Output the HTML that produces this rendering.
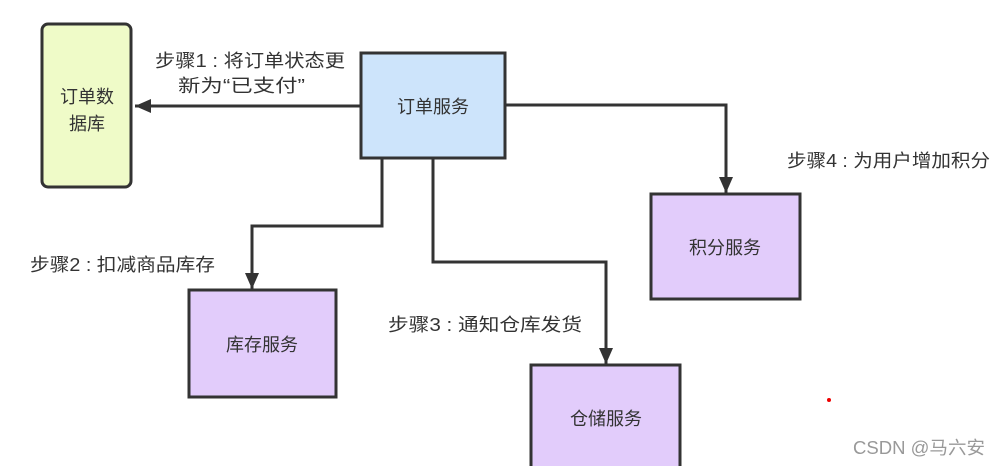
<!DOCTYPE html>
<html><head><meta charset="utf-8"><style>
body{margin:0;width:999px;height:466px;background:#fff;overflow:hidden;font-family:"Liberation Sans","Noto Sans CJK SC",sans-serif;}
svg text{font-family:"Liberation Sans","Noto Sans CJK SC",sans-serif;fill:#333;}
</style></head><body>
<svg width="999" height="466" viewBox="0 0 999 466">
<defs>
<marker id="b" markerWidth="16" markerHeight="16" refX="16" refY="8" orient="auto" markerUnits="userSpaceOnUse" viewBox="0 0 16 16"><path d="M0,1 L16,8 L0,15 z" fill="#333"/></marker></defs>
<g stroke="#333" stroke-width="3" fill="none">
<rect x="42" y="24" width="89" height="163" rx="6" fill="#effbc8"/>
<rect x="361" y="53" width="144" height="105" fill="#cde4fb"/>
<rect x="651" y="194" width="149" height="105" fill="#e2ccfb"/>
<rect x="189" y="290" width="147" height="107" fill="#e2ccfb"/>
<rect x="531" y="365" width="149" height="110" fill="#e2ccfb"/>
<path d="M361,106 L135,106" marker-end="url(#b)"/>
<path d="M505,105 L726,105 L726,193" marker-end="url(#b)"/>
<path d="M382,158 L382,226 L252,226 L252,289" marker-end="url(#b)"/>
<path d="M433,158 L433,262 L606,262 L606,364" marker-end="url(#b)"/>
</g>
<g font-size="18" text-anchor="middle">
<text x="87" y="103">订单数</text><text x="87" y="130">据库</text>
<text x="433" y="113">订单服务</text>
<text x="725" y="254">积分服务</text>
<text x="262" y="351">库存服务</text>
<text x="606" y="425">仓储服务</text>
</g>
<g font-size="18">
<text x="155" y="67" textLength="190" lengthAdjust="spacingAndGlyphs">步骤1 : 将订单状态更</text>
<text x="178" y="92" textLength="127" lengthAdjust="spacingAndGlyphs">新为“已支付”</text>
<text x="30" y="271" textLength="185" lengthAdjust="spacingAndGlyphs">步骤2 : 扣减商品库存</text>
<text x="388" y="331" textLength="194" lengthAdjust="spacingAndGlyphs">步骤3 : 通知仓库发货</text>
<text x="787" y="167" textLength="203" lengthAdjust="spacingAndGlyphs">步骤4 : 为用户增加积分</text>
</g>
<text x="853" y="454" font-size="18" textLength="132" lengthAdjust="spacingAndGlyphs" style="fill:#999">CSDN @马六安</text>
<circle cx="829" cy="400" r="2" fill="#e00"/>
</svg>
</body></html>
